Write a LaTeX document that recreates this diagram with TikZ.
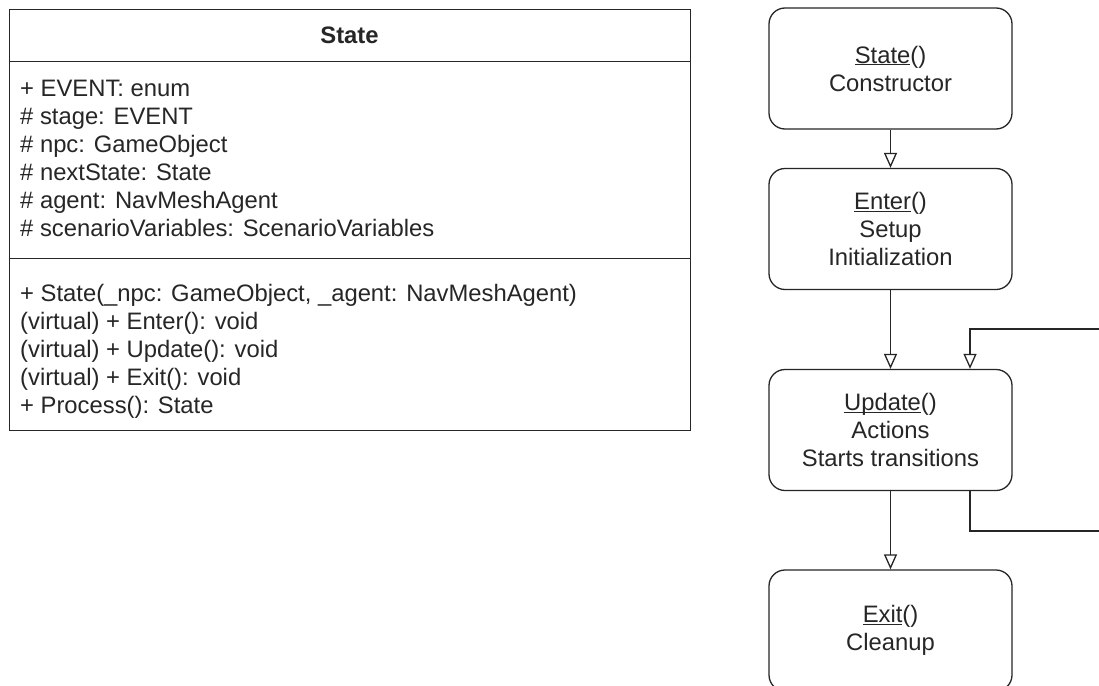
\documentclass[tikz,border=0pt]{standalone}
\usepackage{fontspec}
\setmainfont{Liberation Sans}
\usetikzlibrary{arrows.meta}

\newcommand{\diagfont}{\fontsize{23.8}{28}\selectfont}
% underline drawn just under the baseline, ignoring descenders
\newcommand{\methname}[1]{\underline{\smash{#1}}}

\begin{document}
\begin{tikzpicture}[x=1pt, y=-1pt,
  every node/.style={font=\diagfont, text=black!85},
  umlpart/.style={draw=black!85, line width=1.3pt, rectangle, minimum width=681pt,
    anchor=north west, inner sep=0pt},
  umltext/.style={anchor=north west, align=left, inner sep=0pt},
  statebox/.style={draw=black!85, line width=1.3pt, rounded corners=16pt,
    minimum width=243pt, minimum height=121pt, align=center, inner sep=0pt},
  flow/.style={draw=black!85, line width=1.3pt,
    -{Triangle[open, length=15pt, width=13pt]}}
]
\useasboundingbox (0,0) rectangle (1099,685);
\fill[white] (0,0) rectangle (1099,685);
\clip (0,0) rectangle (1099,685);

% UML class box
\node[umlpart, minimum height=52pt] (umlhead) at (9,9) {};
\node[font=\diagfont\bfseries] (umltitle) at (349.5,35) {State};
\node[umlpart, minimum height=196.5pt] (umlattr) at (9,61) {};
\node[umlpart, minimum height=172.5pt] (umlops) at (9,257.5) {};

\node[umltext] (attrs) at (20,79.5) {+ EVENT: enum\\
\# stage: EVENT\\
\# npc: GameObject\\
\# nextState: State\\
\# agent: NavMeshAgent\\
\# scenarioVariables: ScenarioVariables};

\node[umltext] (ops) at (20,283.7) {+ State(\_npc: GameObject, \_agent: NavMeshAgent)\\
(virtual) + Enter(): void\\
(virtual) + Update(): void\\
(virtual) + Exit(): void\\
+ Process(): State};

% State life cycle
\node[statebox] (ctor) at (890.5,68.5) {\methname{State}()\\Constructor};
\node[statebox] (enter) at (890.5,229) {\methname{Enter}()\\Setup\\Initialization};
\node[statebox] (upd) at (890.5,430) {\methname{Update}()\\Actions\\Starts transitions};
\node[statebox] (exit) at (890.5,630.5) {\methname{Exit}()\\Cleanup};

\draw[flow] (ctor) -- (enter);
\draw[flow] (enter) -- (upd);
\draw[flow] (upd) -- (exit);

% self loop of Update, running out past the right edge
\coordinate (loopout) at (1120,531);
\coordinate (loopin) at (1120,329);
\draw[flow] ([xshift=79.5pt]upd.south) |- (loopout) -- (loopin)
  -| ([xshift=79.5pt]upd.north);
\end{tikzpicture}
\end{document}
